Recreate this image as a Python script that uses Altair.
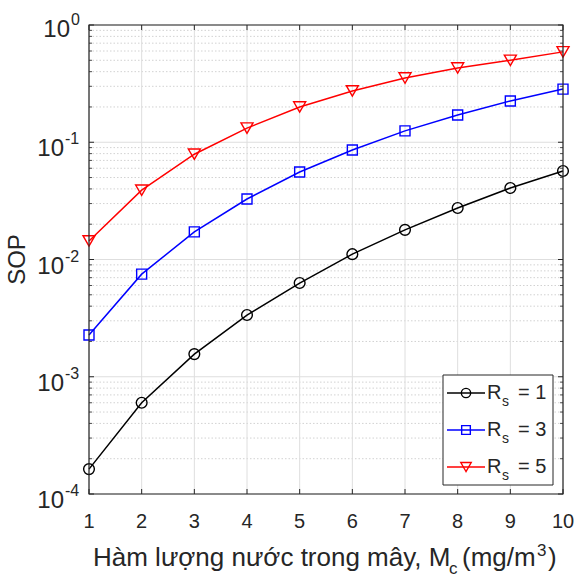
import altair as alt
import pandas as pd

# ---------------- data ----------------
mc = [1, 2, 3, 4, 5, 6, 7, 8, 9, 10]
sop_rs1 = [1.63e-4, 6.0e-4, 1.56e-3, 3.36e-3, 6.3e-3, 0.0111, 0.0179, 0.0275, 0.0407, 0.0569]
sop_rs3 = [2.27e-3, 7.5e-3, 0.0172, 0.0328, 0.0557, 0.0859, 0.125, 0.171, 0.225, 0.284]
sop_rs5 = [0.0144, 0.039, 0.079, 0.132, 0.2, 0.274, 0.353, 0.43, 0.50, 0.59]
series = ["Rs = 1", "Rs = 3", "Rs = 5"]
rs_values = ["1", "3", "5"]
colors = ["#000000", "#0000ff", "#ff0000"]
shapes = ["circle", "square", "triangle-down"]
marker_sizes = [115, 100, 145]

x_ticks = [1, 2, 3, 4, 5, 6, 7, 8, 9, 10]
y_decades = [1e-4, 1e-3, 1e-2, 1e-1, 1.0]
y_exps = ["-4", "-3", "-2", "-1", "0"]
y_minor = [k * 10.0 ** e for e in [-4, -3, -2, -1] for k in range(2, 10)]

W, H = 474, 469
FONT = "Liberation Sans"
TXT = "#262626"

rows = []
for s, vals in zip(series, [sop_rs1, sop_rs3, sop_rs5]):
    for x, v in zip(mc, vals):
        rows.append({"series": s, "mc": x, "sop": v})
df = pd.DataFrame(rows)

xscale = alt.Scale(domain=[1, 10], nice=False, zero=False)
yscale = alt.Scale(type="log", domain=[1e-4, 1], nice=False)
cscale = alt.Scale(domain=series, range=colors)

dmin = pd.DataFrame({"v": y_minor})
dmaj = pd.DataFrame({"v": y_decades, "e": y_exps})
dx = pd.DataFrame({"t": x_ticks, "lab": [str(t) for t in x_ticks]})
one = pd.DataFrame({"k": [0]})

Xv = lambda f: alt.X(f, scale=xscale, axis=None)
Yv = lambda f: alt.Y(f, scale=yscale, axis=None)


def label(text, x, y, size, align="left", **kw):
    return alt.Chart(one).mark_text(font=FONT, fontSize=size, color=TXT, align=align,
                                    baseline="alphabetic", **kw).encode(
        x=alt.value(x), y=alt.value(y), text=alt.value(text))


layers = []
# minor grid (dotted)
layers.append(alt.Chart(dmin).mark_rule(color="#d2d2d2", strokeDash=[1.5, 2], strokeWidth=1).encode(
    y=Yv("v:Q"), x=alt.value(0), x2=alt.value(W)))
# major grid
layers.append(alt.Chart(dmaj).mark_rule(color="#dedede", strokeWidth=1).encode(
    y=Yv("v:Q"), x=alt.value(0), x2=alt.value(W)))
layers.append(alt.Chart(dx).mark_rule(color="#dedede", strokeWidth=1).encode(
    x=Xv("t:Q"), y=alt.value(0), y2=alt.value(H)))
# ticks (inward)
layers.append(alt.Chart(dmaj).mark_rule(color=TXT, strokeWidth=1).encode(
    y=Yv("v:Q"), x=alt.value(0), x2=alt.value(5)))
layers.append(alt.Chart(dmaj).mark_rule(color=TXT, strokeWidth=1).encode(
    y=Yv("v:Q"), x=alt.value(W - 5), x2=alt.value(W)))
layers.append(alt.Chart(dmin).mark_rule(color=TXT, strokeWidth=0.8).encode(
    y=Yv("v:Q"), x=alt.value(0), x2=alt.value(3)))
layers.append(alt.Chart(dmin).mark_rule(color=TXT, strokeWidth=0.8).encode(
    y=Yv("v:Q"), x=alt.value(W - 3), x2=alt.value(W)))
layers.append(alt.Chart(dx).mark_rule(color=TXT, strokeWidth=1).encode(
    x=Xv("t:Q"), y=alt.value(H - 5), y2=alt.value(H)))
layers.append(alt.Chart(dx).mark_rule(color=TXT, strokeWidth=1).encode(
    x=Xv("t:Q"), y=alt.value(0), y2=alt.value(5)))

# data lines & markers
layers.append(alt.Chart(df).mark_line(strokeWidth=1.5).encode(
    x=Xv("mc:Q"), y=Yv("sop:Q"),
    color=alt.Color("series:N", scale=cscale, legend=None), detail="series:N"))
for s, c, sh, sz in zip(series, colors, shapes, marker_sizes):
    layers.append(alt.Chart(df).transform_filter(alt.datum.series == s).mark_point(
        filled=False, shape=sh, size=sz, strokeWidth=1.4, color=c, opacity=1).encode(
        x=Xv("mc:Q"), y=Yv("sop:Q")))

# frame
layers.append(alt.Chart(one).mark_rect(fill=None, stroke=TXT, strokeWidth=1.2).encode(
    x=alt.value(0), x2=alt.value(W), y=alt.value(0), y2=alt.value(H)))

# x tick labels
layers.append(alt.Chart(dx).mark_text(font=FONT, fontSize=20, color=TXT, align="center",
                                      baseline="alphabetic").encode(
    x=Xv("t:Q"), y=alt.value(H + 34), text="lab:N"))

# y tick labels 10^e
neg = alt.datum.e != "0"
pos = alt.datum.e == "0"
layers.append(alt.Chart(dmaj).transform_filter(neg).mark_text(
    font=FONT, fontSize=24, color=TXT, align="right", baseline="alphabetic", dy=14).encode(
    y=Yv("v:Q"), x=alt.value(-25), text=alt.value("10")))
layers.append(alt.Chart(dmaj).transform_filter(neg).mark_text(
    font=FONT, fontSize=16, color=TXT, align="left", baseline="alphabetic", dy=2).encode(
    y=Yv("v:Q"), x=alt.value(-24), text="e:N"))
layers.append(alt.Chart(dmaj).transform_filter(pos).mark_text(
    font=FONT, fontSize=24, color=TXT, align="right", baseline="alphabetic", dy=12).encode(
    y=Yv("v:Q"), x=alt.value(-19), text=alt.value("10")))
layers.append(alt.Chart(dmaj).transform_filter(pos).mark_text(
    font=FONT, fontSize=16, color=TXT, align="left", baseline="alphabetic", dy=0).encode(
    y=Yv("v:Q"), x=alt.value(-18), text="e:N"))

# axis titles
layers.append(alt.Chart(one).mark_text(font=FONT, fontSize=24, color=TXT, angle=270,
                                       align="center", baseline="middle").encode(
    x=alt.value(-71), y=alt.value(H / 2), text=alt.value("SOP")))
TB = H + 72  # title baseline
layers.append(label("Hàm lượng nước trong mây, M", 4, TB, 26))
layers.append(label("c", 360, TB + 8, 17))
layers.append(label("(mg/m", 373, TB, 26))
layers.append(label("3", 448, TB - 10, 17))
layers.append(label(")", 459, TB, 26))

# legend
LX0, LX1, LY0, LY1 = 354, 464, 350, 460
layers.append(alt.Chart(one).mark_rect(fill="white", stroke=TXT, strokeWidth=1).encode(
    x=alt.value(LX0), x2=alt.value(LX1), y=alt.value(LY0), y2=alt.value(LY1)))
row_y = [368, 405, 442]
for s, r, c, sh, sz, ry in zip(series, rs_values, colors, shapes, marker_sizes, row_y):
    layers.append(alt.Chart(one).mark_rule(color=c, strokeWidth=1.5).encode(
        x=alt.value(358), x2=alt.value(396), y=alt.value(ry)))
    layers.append(alt.Chart(one).mark_point(filled=False, shape=sh, size=sz * 0.75,
                                            strokeWidth=1.4, color=c, opacity=1).encode(
        x=alt.value(377), y=alt.value(ry)))
    layers.append(label("R", 398, ry + 6, 20))
    layers.append(label("s", 413, ry + 13, 14))
    layers.append(label("= " + r, 429, ry + 6, 20))

chart = alt.layer(*layers).properties(
    width=W, height=H,
    padding={"left": 89, "top": 25, "right": 16, "bottom": 84},
    autosize=alt.AutoSizeParams(type="none"),
    background="white",
).configure_view(stroke=None)

chart.save("out.html", embed_options={"renderer": "svg", "actions": False})
